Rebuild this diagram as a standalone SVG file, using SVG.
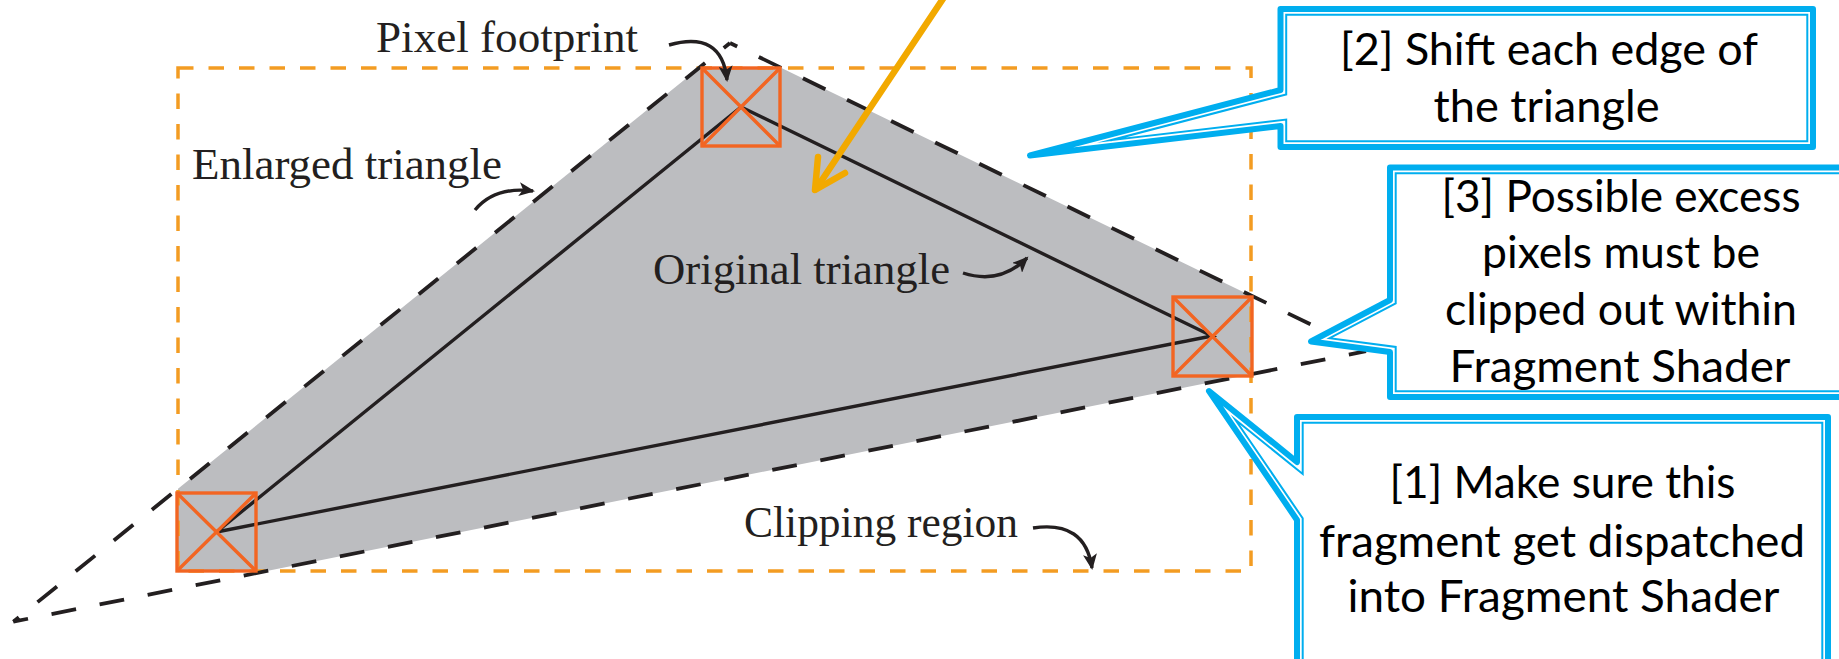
<svg xmlns="http://www.w3.org/2000/svg" width="1839" height="659" viewBox="0 0 1839 659">
<style>
.lbl{font-family:"Liberation Serif","DejaVu Serif",serif;font-size:44px;fill:#231F20}
.ct{font-family:Lato,"Open Sans","Liberation Sans",sans-serif;font-size:45px;fill:#000;text-anchor:middle}
.enl{fill:none;stroke:#231F20;stroke-width:3.8;stroke-dasharray:25 24}
.orig{fill:none;stroke:#231F20;stroke-width:3.4}
.pix{fill:none;stroke:#F26522;stroke-width:3.4}
.clip{fill:none;stroke:#F39C22;stroke-width:3.5;stroke-dasharray:15.5 15}
.sarr{fill:none;stroke:#231F20;stroke-width:3.4;marker-end:url(#ah)}
.thick{fill:#fff;stroke:#00AEEF;stroke-width:6;stroke-linejoin:round}
.thin{fill:none;stroke:#00AEEF;stroke-width:2;stroke-linejoin:miter;stroke-miterlimit:20}
</style>
<defs>
<marker id="ah" markerWidth="17" markerHeight="14" refX="14" refY="7" orient="auto" markerUnits="userSpaceOnUse">
<path d="M0,0 L16,7 L0,14 L4,7 Z" fill="#231F20"/>
</marker>
</defs>
<rect width="1839" height="659" fill="#fff"/>

<g id="shaded-area">
<polygon points="699,68 781.5,68 1251,295.7 1251,374.2 266.8,571 178,571 178,488.7" fill="#BCBDC0"/>
</g>

<g id="clipping-region">
<rect class="clip" x="178" y="68" width="1073" height="503"/>
</g>

<g id="enlarged-triangle">
<path class="enl" d="M730,43 L13.3,621.7" stroke-dashoffset="17"/>
<path class="enl" d="M730,43 L1366,351.2" stroke-dashoffset="17"/>
<path class="enl" d="M13.3,621.7 L1366,351.2" stroke-dashoffset="10"/>
</g>

<g id="original-triangle">
<polygon class="orig" points="741,107 216.5,532 1212,336"/>
</g>

<g id="pixel-top">
<rect class="pix" x="702" y="68" width="78" height="78"/>
<path class="pix" d="M702,68 L780,146 M780,68 L702,146"/>
</g>
<g id="pixel-left">
<rect class="pix" x="177" y="493" width="79" height="78"/>
<path class="pix" d="M177,493 L256,571 M256,493 L177,571"/>
</g>
<g id="pixel-right">
<rect class="pix" x="1173" y="297" width="79" height="79"/>
<path class="pix" d="M1173,297 L1252,376 M1252,297 L1173,376"/>
</g>

<g id="label-pixel-footprint">
<text class="lbl" x="376" y="52" textLength="262" lengthAdjust="spacingAndGlyphs">Pixel footprint</text>
</g>
<g id="label-enlarged">
<text class="lbl" x="192" y="179" textLength="310" lengthAdjust="spacingAndGlyphs">Enlarged triangle</text>
</g>
<g id="label-original">
<text class="lbl" x="653" y="284" textLength="297" lengthAdjust="spacingAndGlyphs">Original triangle</text>
</g>
<g id="label-clipping">
<text class="lbl" x="744" y="537" textLength="274" lengthAdjust="spacingAndGlyphs">Clipping region</text>
</g>

<g id="connectors">
<path class="sarr" d="M669,45 Q722,30 727,80"/>
<path class="sarr" d="M475,210 Q495,186 533,191"/>
<path class="sarr" d="M963,273 Q1000,285 1027,258"/>
<path class="sarr" d="M1033,528 Q1085,520 1092,568"/>
<path d="M943.5,-2 L816,189" fill="none" stroke="#F2A900" stroke-width="6.5" stroke-linecap="round"/>
<path d="M818,157 L815,190 L845,173" fill="none" stroke="#F2A900" stroke-width="6.5" stroke-linecap="round" stroke-linejoin="round"/>
</g>

<g id="callout-2">
<path class="thick" d="M1280.5,9 H1813 V147 H1280.5 V126 L1030,155.5 L1280.5,90 Z"/>
<path class="thin" d="M1286.2,14.7 H1807.3 V141.3 H1286.2 V119.6 L1111,140.2 L1286.2,94.4 Z"/>
<text class="ct" x="1549" y="65" textLength="418" lengthAdjust="spacingAndGlyphs">[2] Shift each edge of</text>
<text class="ct" x="1546.5" y="122" textLength="226" lengthAdjust="spacingAndGlyphs">the triangle</text>
</g>

<g id="callout-3">
<path class="thick" d="M1390,167.5 H1850 V397 H1390 V352 L1311,341.5 L1390,300 Z"/>
<path class="thin" d="M1395.7,173.2 H1850 V391.3 H1395.7 V347 L1329.6,338.2 L1395.7,303.5 Z"/>
<text class="ct" x="1621" y="212" textLength="359" lengthAdjust="spacingAndGlyphs">[3] Possible excess</text>
<text class="ct" x="1621" y="268" textLength="278" lengthAdjust="spacingAndGlyphs">pixels must be</text>
<text class="ct" x="1621" y="325" textLength="352" lengthAdjust="spacingAndGlyphs">clipped out within</text>
<text class="ct" x="1620" y="382" textLength="341" lengthAdjust="spacingAndGlyphs">Fragment Shader</text>
</g>

<g id="callout-1">
<path class="thick" d="M1297,417 H1828 V670 H1297 V520 L1209,391 L1297,462 Z"/>
<path class="thin" d="M1302.7,422.7 H1822.3 V670 H1302.7 V518.3 L1235.4,419.7 L1302.7,474 Z"/>
<text class="ct" x="1562.5" y="498" textLength="346" lengthAdjust="spacingAndGlyphs">[1] Make sure this</text>
<text class="ct" x="1562" y="557" textLength="486" lengthAdjust="spacingAndGlyphs">fragment get dispatched</text>
<text class="ct" x="1563.5" y="612" textLength="432" lengthAdjust="spacingAndGlyphs">into Fragment Shader</text>
</g>
</svg>
